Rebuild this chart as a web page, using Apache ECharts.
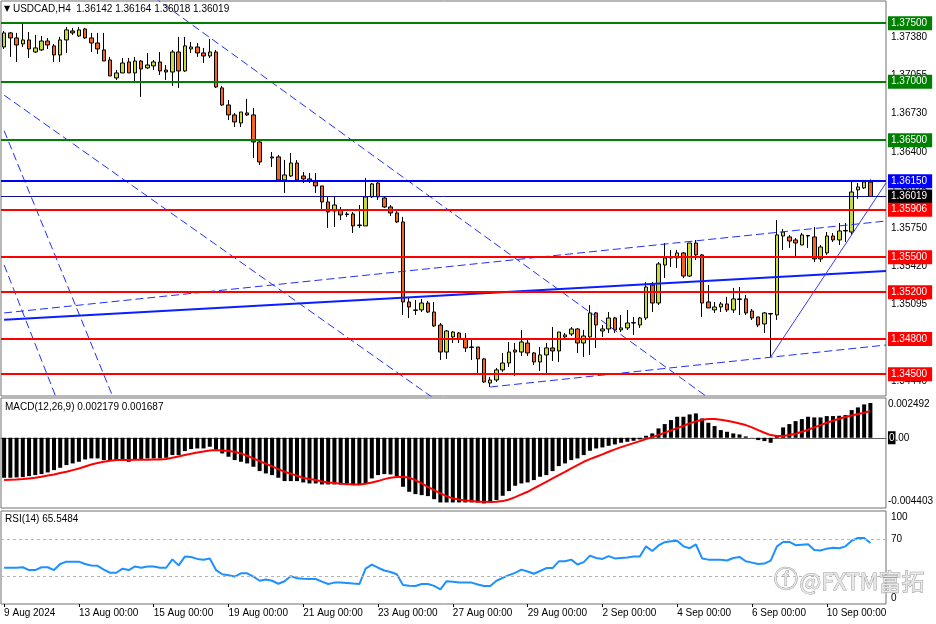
<!DOCTYPE html>
<html>
<head>
<meta charset="utf-8">
<script src="https://cdn.jsdelivr.net/npm/echarts@6.0.0/dist/echarts.min.js"></script>
<style>
  html, body { margin: 0; padding: 0; background: #fff; }
  #main { width: 936px; height: 624px; }
</style>
</head>
<body>
<div id="main"></div>
<script>
const FONT = '"Liberation Sans", Arial, sans-serif';

const symbol = 'USDCAD,H4';
const slotCount = 142;            // time slots on the axis (last two stay empty)
const labelStep = 12;             // one date label every 12 H4 bars
const timeLabels = ['9 Aug 2024', '13 Aug 00:00', '15 Aug 00:00', '19 Aug 00:00', '21 Aug 00:00',
  '23 Aug 00:00', '27 Aug 00:00', '29 Aug 00:00', '2 Sep 00:00', '4 Sep 00:00', '6 Sep 00:00', '10 Sep 00:00'];

// H4 candles (null = missing bar)
const opens = [
  1.37297, 1.37417, 1.37374, 1.37323, 1.37357, 1.37254, 1.37272, 1.37348, 1.37306, 1.37229,
  1.37357, 1.37434, 1.37391, 1.37451, 1.37374, 1.37331, 1.37272, 1.37186, 1.37032, 1.37075,
  1.37169, 1.37075, 1.37177, 1.37118, 1.37135, 1.37169, 1.37100, 1.37083, 1.37254, 1.37092,
  1.37280, 1.37297, 1.37246, 1.37220, 1.37254, 1.36947, 1.36801, 1.36716, 1.36647, 1.36733,
  1.36716, 1.36485, null, 1.36357, 1.36357, 1.36160, 1.36194, 1.36305, 1.36194, 1.36169,
  1.36143, 1.36109, 1.35972, 1.35895, 1.35904, 1.35869, 1.35869, 1.35770, 1.35767, 1.36015,
  1.36134, 1.36006, 1.35929, 1.35878, 1.35801, 1.35117, 1.35049, 1.35049, 1.35108, 1.35031,
  1.34920, 1.34689, 1.34818, 1.34852, 1.34801, 1.34732, 1.34732, 1.34630, 1.34424, 1.34450,
  1.34536, 1.34595, 1.34706, 1.34689, 1.34766, 1.34681, 1.34604, 1.34664, 1.34724, 1.34698,
  1.34818, 1.34843, 1.34886, 1.34766, 1.34818, 1.35023, 1.34869, 1.34886, 1.34980, 1.34878,
  1.34895, 1.34937, 1.34920, 1.34980, 1.35262, 1.35108, 1.35433, 1.35493, 1.35493, 1.35536,
  1.35339, 1.35621, 1.35519, 1.35117, 1.35049, 1.35074, 1.35100, 1.35049, 1.35143, 1.35143,
  1.35040, 1.34989, 1.34929, 1.35014, 1.35006, 1.35681, 1.35673, 1.35647, 1.35604, 1.35681,
  1.35673, 1.35485, 1.35536, 1.35681, 1.35647, 1.35724, 1.35715, 1.36075, 1.36092, 1.36142
];
const highs = [
  1.37434, 1.37425, 1.37417, 1.37511, 1.37425, 1.37400, 1.37391, 1.37374, 1.37323, 1.37383,
  1.37468, 1.37460, 1.37468, 1.37460, 1.37417, 1.37417, 1.37417, 1.37212, 1.37100, 1.37203,
  1.37203, 1.37212, 1.37186, 1.37246, 1.37186, 1.37254, 1.37143, 1.37272, 1.37383, 1.37383,
  1.37340, 1.37331, 1.37289, 1.37366, 1.37272, 1.36964, 1.36844, 1.36733, 1.36741, 1.36853,
  1.36776, 1.36502, null, 1.36399, 1.36374, 1.36331, 1.36391, 1.36331, 1.36228, 1.36220,
  1.36220, 1.36109, 1.36015, 1.36015, 1.35929, 1.35886, 1.35886, 1.35946, 1.36177, 1.36134,
  1.36140, 1.36015, 1.35946, 1.35895, 1.35844, 1.35151, 1.35134, 1.35143, 1.35125, 1.35117,
  1.34937, 1.34878, 1.34869, 1.34860, 1.34852, 1.34792, 1.34732, 1.34638, 1.34476, 1.34553,
  1.34681, 1.34775, 1.34766, 1.34878, 1.34792, 1.34689, 1.34732, 1.34766, 1.34903, 1.34860,
  1.34852, 1.34903, 1.34895, 1.34878, 1.35091, 1.35031, 1.34920, 1.35031, 1.34989, 1.35006,
  1.35049, 1.34989, 1.34989, 1.35288, 1.35288, 1.35459, 1.35621, 1.35562, 1.35562, 1.35544,
  1.35621, 1.35647, 1.35527, 1.35262, 1.35117, 1.35117, 1.35160, 1.35237, 1.35245, 1.35177,
  1.35057, 1.34989, 1.35031, 1.35023, 1.35818, 1.35741, 1.35690, 1.35664, 1.35707, 1.35690,
  1.35758, 1.35604, 1.35715, 1.35707, 1.35792, 1.35792, 1.36143, 1.36134, 1.36160, 1.36164
];
const lows = [
  1.37280, 1.37212, 1.37169, 1.37297, 1.37203, 1.37246, 1.37263, 1.37280, 1.37169, 1.37169,
  1.37246, 1.37400, 1.37383, 1.37366, 1.37254, 1.37237, 1.37177, 1.37049, 1.37015, 1.37075,
  1.37075, 1.36998, 1.36870, 1.37109, 1.37100, 1.37058, 1.37015, 1.36964, 1.36947, 1.37083,
  1.37246, 1.37212, 1.37160, 1.37203, 1.36947, 1.36793, 1.36673, 1.36613, 1.36613, 1.36707,
  1.36348, 1.36288, null, 1.36271, 1.36143, 1.36049, 1.36186, 1.36160, 1.36134, 1.36134,
  1.36049, 1.35904, 1.35750, 1.35758, 1.35818, 1.35844, 1.35707, 1.35750, 1.35767, 1.36006,
  1.35989, 1.35921, 1.35852, 1.35792, 1.35006, 1.34980, 1.35006, 1.35031, 1.35023, 1.34903,
  1.34621, 1.34630, 1.34766, 1.34766, 1.34689, 1.34621, 1.34510, 1.34424, 1.34390, 1.34433,
  1.34519, 1.34561, 1.34484, 1.34655, 1.34655, 1.34578, 1.34527, 1.34510, 1.34612, 1.34604,
  1.34809, 1.34826, 1.34681, 1.34647, 1.34664, 1.34724, 1.34818, 1.34852, 1.34852, 1.34860,
  1.34878, 1.34835, 1.34895, 1.34963, 1.35031, 1.35091, 1.35322, 1.35416, 1.35408, 1.35322,
  1.35331, 1.35476, 1.34989, 1.35066, 1.35023, 1.35031, 1.35031, 1.35023, 1.35006, 1.35006,
  1.34963, 1.34903, 1.34852, 1.34647, 1.34963, 1.35562, 1.35579, 1.35502, 1.35604, 1.35579,
  1.35459, 1.35459, 1.35519, 1.35630, 1.35604, 1.35630, 1.35690, 1.35998, 1.36083, 1.36018
];
const closes = [
  1.37417, 1.37374, 1.37314, 1.37357, 1.37280, 1.37289, 1.37348, 1.37314, 1.37229, 1.37357,
  1.37443, 1.37417, 1.37443, 1.37374, 1.37331, 1.37280, 1.37177, 1.37049, 1.37075, 1.37160,
  1.37075, 1.37177, 1.37109, 1.37143, 1.37169, 1.37092, 1.37083, 1.37254, 1.37092, 1.37306,
  1.37297, 1.37246, 1.37220, 1.37254, 1.36955, 1.36801, 1.36716, 1.36656, 1.36741, 1.36716,
  1.36485, 1.36314, null, 1.36348, 1.36160, 1.36203, 1.36305, 1.36160, 1.36169, 1.36151,
  1.36109, 1.35972, 1.35886, 1.35946, 1.35861, 1.35865, 1.35767, 1.35775, 1.36015, 1.36126,
  1.36015, 1.35929, 1.35878, 1.35801, 1.35117, 1.35074, 1.35045, 1.35108, 1.35031, 1.34912,
  1.34689, 1.34869, 1.34860, 1.34801, 1.34724, 1.34728, 1.34630, 1.34433, 1.34450, 1.34536,
  1.34595, 1.34689, 1.34689, 1.34775, 1.34681, 1.34604, 1.34664, 1.34724, 1.34698, 1.34860,
  1.34835, 1.34886, 1.34766, 1.34826, 1.35023, 1.34920, 1.34886, 1.34980, 1.34878, 1.34895,
  1.34937, 1.34940, 1.34980, 1.35245, 1.35108, 1.35442, 1.35493, 1.35497, 1.35536, 1.35339,
  1.35621, 1.35519, 1.35108, 1.35066, 1.35074, 1.35100, 1.35049, 1.35143, 1.35139, 1.35023,
  1.34980, 1.34920, 1.35023, 1.35018, 1.35690, 1.35715, 1.35638, 1.35621, 1.35690, 1.35685,
  1.35485, 1.35587, 1.35681, 1.35647, 1.35724, 1.35728, 1.36057, 1.36100, 1.36143, 1.36019
];

// MACD(12,26,9): histogram (main) and signal
const macdHist = [
  -0.002508, -0.002508, -0.002487, -0.002466, -0.002404, -0.002341, -0.002278, -0.002174, -0.002027, -0.001881,
  -0.001714, -0.001609, -0.001505, -0.001359, -0.001296, -0.001296, -0.001400, -0.001442, -0.001442, -0.001400,
  -0.001505, -0.001338, -0.001338, -0.001296, -0.001296, -0.001296, -0.001254, -0.001087, -0.001087, -0.000836,
  -0.000711, -0.000669, -0.000669, -0.000564, -0.000732, -0.000982, -0.001191, -0.001400, -0.001505, -0.001609,
  -0.001818, -0.002090, -0.002236, -0.002341, -0.002508, -0.002717, -0.002717, -0.002717, -0.002801, -0.002863,
  -0.002863, -0.002926, -0.002926, -0.002926, -0.002926, -0.002968, -0.002968, -0.002968, -0.002863, -0.002550,
  -0.002341, -0.002278, -0.002299, -0.002404, -0.003072, -0.003386, -0.003532, -0.003595, -0.003658, -0.003850,
  -0.004055, -0.004055, -0.004055, -0.004055, -0.004055, -0.004055, -0.004055, -0.004117, -0.004055, -0.003908,
  -0.003637, -0.003344, -0.003010, -0.002863, -0.002801, -0.002654, -0.002445, -0.002341, -0.002090, -0.001777,
  -0.001609, -0.001400, -0.001296, -0.001087, -0.000815, -0.000669, -0.000606, -0.000502, -0.000418, -0.000314,
  -0.000251, -0.000188, -0.000105, 0.000125, 0.000272, 0.000585, 0.000857, 0.001108, 0.001317, 0.001317,
  0.001463, 0.001526, 0.001212, 0.000941, 0.000732, 0.000481, 0.000376, 0.000272, 0.000209, 0.000084,
  0.000010, -0.000146, -0.000209, -0.000314, 0.000167, 0.000648, 0.000857, 0.001045, 0.001170, 0.001317,
  0.001275, 0.001275, 0.001359, 0.001359, 0.001379, 0.001421, 0.001735, 0.001902, 0.002090, 0.002179
];
const macdSignal = [
  -0.002654, -0.002633, -0.002613, -0.002592, -0.002550, -0.002508, -0.002445, -0.002362, -0.002299, -0.002215,
  -0.002132, -0.002027, -0.001923, -0.001797, -0.001672, -0.001588, -0.001505, -0.001442, -0.001400, -0.001400,
  -0.001400, -0.001379, -0.001379, -0.001379, -0.001359, -0.001359, -0.001338, -0.001254, -0.001170, -0.001087,
  -0.001003, -0.000920, -0.000857, -0.000794, -0.000773, -0.000794, -0.000836, -0.000878, -0.000982, -0.001129,
  -0.001296, -0.001463, -0.001630, -0.001797, -0.001965, -0.002132, -0.002257, -0.002383, -0.002508, -0.002592,
  -0.002654, -0.002738, -0.002801, -0.002842, -0.002884, -0.002905, -0.002926, -0.002926, -0.002884, -0.002801,
  -0.002717, -0.002592, -0.002508, -0.002466, -0.002445, -0.002508, -0.002654, -0.002863, -0.003072, -0.003281,
  -0.003490, -0.003658, -0.003804, -0.003867, -0.003929, -0.003971, -0.004013, -0.004013, -0.004034, -0.004013,
  -0.003971, -0.003867, -0.003720, -0.003553, -0.003386, -0.003177, -0.002968, -0.002759, -0.002550, -0.002341,
  -0.002132, -0.001923, -0.001714, -0.001505, -0.001338, -0.001191, -0.001045, -0.000878, -0.000732, -0.000585,
  -0.000460, -0.000334, -0.000209, -0.000084, 0.000042, 0.000167, 0.000314, 0.000460, 0.000606, 0.000752,
  0.000899, 0.001024, 0.001129, 0.001170, 0.001170, 0.001129, 0.001066, 0.000982, 0.000899, 0.000794,
  0.000648, 0.000481, 0.000314, 0.000167, 0.000105, 0.000105, 0.000167, 0.000251, 0.000376, 0.000502,
  0.000648, 0.000794, 0.000941, 0.001066, 0.001191, 0.001296, 0.001400, 0.001484, 0.001568, 0.001687
];

// RSI(14)
const rsi = [
  39, 39, 39, 39.5, 36.5, 36.5, 39.5, 39.5, 36.5, 43,
  45.5, 45.5, 45.5, 43, 41.5, 41, 37, 33.6, 33.6, 38,
  36.5, 40.4, 39, 40.4, 40.4, 39, 39, 48, 41.5, 51,
  50.5, 48.5, 47.5, 49, 36.5, 32, 31, 29.5, 33, 33,
  29.5, 25, 26.3, 25, 21.8, 24.5, 30, 27.6, 27.2, 27,
  26.9, 24, 21.5, 23, 23, 22.7, 22, 21.5, 38, 42.4,
  39, 36, 34.4, 32, 20.4, 19.5, 19.3, 21.5, 21.5, 19.5,
  15.8, 24.5, 24, 23, 23, 23, 21, 19.3, 19.3, 25,
  28, 31, 33.5, 37, 35, 32.5, 35.5, 38.6, 38.6, 45.9,
  45.9, 47.7, 42.5, 45, 52, 49.5, 48.5, 51.5, 49, 49.5,
  50, 51, 51, 62, 57, 63, 66.5, 67.4, 68, 62,
  60, 64, 49, 47.7, 47.7, 47.5, 46.8, 49.5, 50.6, 46,
  44.5, 43, 43.5, 46.6, 62, 66.7, 66.7, 63.3, 63.8, 64.3,
  58, 57.5, 59.5, 60.5, 60, 62, 68, 71, 71, 65.5484
];

// horizontal levels drawn on the chart
const greenLevels = [1.37500, 1.37000, 1.36500];
const blueLevels = [1.36150];
const redLevels = [1.35906, 1.35500, 1.35200, 1.34800, 1.34500];

// trend lines: [[barIndex, price], [barIndex, price]]
const dashedTrends = [
  [[0, 1.36885], [70, 1.34253]],
  [[24, 1.37724], [114, 1.34259]],
  [[0, 1.36581], [18, 1.34234]],
  [[0, 1.35434], [9, 1.34211]],
  [[0, 1.35023], [141.5, 1.35809]],
  [[78, 1.34390], [141.5, 1.34749]]
];
const thickTrend = [[0, 1.34964], [141.5, 1.35382]];
const thinTrend = [[123, 1.34647], [141.5, 1.36134]];

// axis ranges and labels
const priceMin = 1.34313, priceMax = 1.37690;
const priceTicks = [1.37380, 1.37055, 1.36730, 1.36400, 1.36075, 1.35750, 1.35420, 1.35095, 1.34770, 1.34440];
const macdMin = -0.004403, macdMax = 0.002492;
const macdTicks = [0.002492, 0, -0.004403];
const macdTickLabels = ['0.002492', '{mark|0}.00', '-0.004403'];
const rsiTicks = [100, 70, 0];
const rsiLevels = [70, 30];

const BULL = '#c8da3c', BEAR = '#f26522';

const last = closes.length - 1;
const categories = Array.from({ length: slotCount }, (_, i) => String(i));
const candles = opens.map((o, i) => (o == null ? '-' : [o, closes[i], lows[i], highs[i]]));

const level = (v, color, width, box) => ({
  yAxis: v,
  lineStyle: { color: color, width: width, type: 'solid' },
  label: { backgroundColor: box }
});
const levelData = [];
greenLevels.forEach((v) => levelData.push(level(v, '#008000', 2, '#008000')));
blueLevels.forEach((v) => levelData.push(level(v, '#0000ff', 2, '#0000ff')));
levelData.push(level(closes[last], '#10108a', 1, '#000'));
redLevels.forEach((v) => levelData.push(level(v, '#ff0000', 2, '#ff0000')));

const showLabel = (index) => index % labelStep === 0 && index / labelStep < timeLabels.length;

const trendSeries = dashedTrends.map((seg) => ({
  type: 'line', xAxisIndex: 1, yAxisIndex: 0, data: seg, symbol: 'none', silent: true,
  lineStyle: { color: '#1f2fff', width: 1, type: [8, 4] }
}));
trendSeries.push({
  type: 'line', xAxisIndex: 1, yAxisIndex: 0, data: thickTrend, symbol: 'none', silent: true,
  lineStyle: { color: '#0a1eff', width: 2 }
});
trendSeries.push({
  type: 'line', xAxisIndex: 1, yAxisIndex: 0, data: thinTrend, symbol: 'none', silent: true,
  lineStyle: { color: '#3a3aff', width: 1 }
});

const gridStyle = { show: true, borderColor: '#707070', borderWidth: 1, backgroundColor: '#fff' };

const chart = echarts.init(document.getElementById('main'));
chart.setOption({
  animation: false,
  backgroundColor: '#fff',
  textStyle: { fontFamily: FONT, fontSize: 10, color: '#000' },
  title: [
    {
      text: '{tri|▼} ' + symbol + '  ' + [opens[last], highs[last], lows[last], closes[last]].map((v) => v.toFixed(5)).join(' '),
      left: 4, top: 4, padding: 0,
      textStyle: { fontFamily: FONT, fontSize: 10, fontWeight: 'normal', color: '#000',
        rich: { tri: { fontSize: 8, color: '#000', fontFamily: '"DejaVu Sans"' } } }
    },
    {
      text: 'MACD(12,26,9) ' + macdHist[last].toFixed(6) + ' ' + macdSignal[last].toFixed(6),
      left: 5, top: 402, padding: 0,
      textStyle: { fontFamily: FONT, fontSize: 10, fontWeight: 'normal', color: '#000' }
    },
    {
      text: 'RSI(14) ' + rsi[last].toFixed(4),
      left: 5, top: 514, padding: 0,
      textStyle: { fontFamily: FONT, fontSize: 10, fontWeight: 'normal', color: '#000' }
    }
  ],
  grid: [
    Object.assign({ left: 1, right: 50, top: 1, height: 395 }, gridStyle),
    Object.assign({ left: 1, right: 50, top: 398, height: 110 }, gridStyle),
    Object.assign({ left: 1, right: 50, top: 511, height: 93 }, gridStyle)
  ],
  xAxis: [
    { type: 'category', gridIndex: 0, data: categories, boundaryGap: true, show: false },
    { type: 'value', gridIndex: 0, min: -0.5, max: slotCount - 0.5, show: false },
    {
      type: 'category', gridIndex: 1, data: categories, boundaryGap: true,
      axisLine: { show: true, onZero: true, lineStyle: { color: '#606060', width: 1 } },
      axisTick: { show: false }, axisLabel: { show: false }, splitLine: { show: false }
    },
    {
      type: 'category', gridIndex: 2, data: categories, boundaryGap: true,
      axisLine: { show: false },
      axisTick: { show: true, interval: showLabel, alignWithLabel: true, length: 3, lineStyle: { color: '#000' } },
      axisLabel: {
        interval: showLabel, align: 'left', margin: 4, fontSize: 10, color: '#000', fontFamily: FONT,
        formatter: (value, index) => timeLabels[index / labelStep]
      },
      splitLine: { show: false }
    }
  ],
  yAxis: [
    {
      type: 'value', gridIndex: 0, position: 'right', min: priceMin, max: priceMax, scale: true,
      axisLine: { show: false }, splitLine: { show: false }, axisTick: { show: false },
      axisLabel: { customValues: priceTicks, margin: 5, fontSize: 10, color: '#000', fontFamily: FONT,
        formatter: (v) => v.toFixed(5) }
    },
    {
      type: 'value', gridIndex: 1, position: 'right', min: macdMin, max: macdMax,
      axisLine: { show: false }, splitLine: { show: false }, axisTick: { show: false },
      axisLabel: {
        customValues: macdTicks, margin: 2, fontSize: 10, color: '#000', fontFamily: FONT, lineHeight: 13,
        formatter: (v) => {
          const i = macdTicks.indexOf(v);
          const t = macdTickLabels[i];
          if (i === 0) return '\n' + t;
          if (i === macdTicks.length - 1) return t + '\n';
          return t;
        },
        rich: { mark: { backgroundColor: '#000', color: '#fff', fontSize: 10, fontFamily: FONT, padding: [2, 1, 1, 1] } }
      }
    },
    {
      type: 'value', gridIndex: 2, position: 'right', min: 0, max: 100,
      axisLine: { show: false }, splitLine: { show: false }, axisTick: { show: false },
      axisLabel: {
        customValues: rsiTicks, margin: 5, fontSize: 10, color: '#000', fontFamily: FONT, lineHeight: 12,
        formatter: (v) => (v === 100 ? '\n' + v : v === 0 ? v + '\n' : String(v))
      }
    }
  ],
  series: [
    {
      type: 'candlestick', xAxisIndex: 0, yAxisIndex: 0, data: candles, barWidth: 4, silent: true,
      itemStyle: { color: BULL, color0: BEAR, borderColor: '#000', borderColor0: '#000', borderColorDoji: '#000', borderWidth: 1 },
      markLine: {
        silent: true, symbol: ['none', 'none'], animation: false, precision: 5,
        lineStyle: { type: 'solid' },
        label: {
          show: true, position: 'end', distance: 2, color: '#fff', fontSize: 10, fontFamily: FONT,
          padding: [2, 5, 1, 3], lineHeight: 11,
          formatter: (p) => Number(p.value).toFixed(5)
        },
        data: levelData
      }
    },
    ...trendSeries,
    {
      type: 'bar', xAxisIndex: 2, yAxisIndex: 1, data: macdHist, barWidth: 4, silent: true,
      itemStyle: { color: '#000' }
    },
    {
      type: 'line', xAxisIndex: 2, yAxisIndex: 1, data: macdSignal, symbol: 'none', silent: true,
      lineStyle: { color: '#ff0000', width: 2 }
    },
    {
      type: 'line', xAxisIndex: 3, yAxisIndex: 2, data: rsi, symbol: 'none', silent: true,
      lineStyle: { color: '#1e90ff', width: 2 },
      markLine: {
        silent: true, symbol: ['none', 'none'], label: { show: false },
        lineStyle: { color: '#b4b4b4', width: 1, type: [3, 3] },
        data: rsiLevels.map((v) => ({ yAxis: v }))
      }
    }
  ],
  graphic: [
    {
      type: 'text', left: 773, top: 568, z: 100, silent: true,
      style: { text: 'ⓕ', font: '24px "DejaVu Sans"', fill: '#e8e8e8', stroke: '#a0a0a0', lineWidth: 1 }
    },
    {
      type: 'text', left: 799, top: 569, z: 100, silent: true,
      style: { text: '@FXTM富拓', font: '23px "Noto Sans CJK SC"', fill: '#e8e8e8', stroke: '#a0a0a0', lineWidth: 1 }
    }
  ]
});
</script>
</body>
</html>
